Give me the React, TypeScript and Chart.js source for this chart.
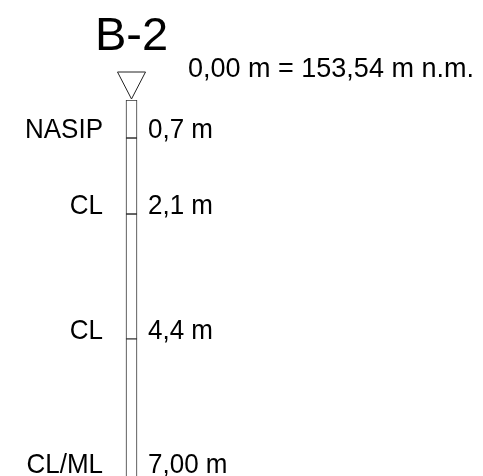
import React, { useEffect, useRef } from "react";
import { Chart, registerables } from "chart.js";

Chart.register(...registerables);

const boreholeName = "B-2";
const elevationText = "0,00 m = 153,54 m n.m.";
const layerSoils = ["NASIP", "CL", "CL", "CL/ML"];
const layerTops = [0, 0.7, 2.1, 4.4];
const layerBottoms = [0.7, 2.1, 4.4, 7.0];
const depthLabels = ["0,7 m", "2,1 m", "4,4 m", "7,00 m"];

const FONT = '"Liberation Sans", Arial, sans-serif';

function tallText(ctx: any, text: string, x: number, y: number, sy: number) {
  ctx.save();
  ctx.translate(x, y);
  ctx.scale(1, sy);
  ctx.fillText(text, 0, 0);
  ctx.restore();
}

const logPlugin = {
  id: "logPlugin",
  afterDraw(chart: any) {
    const { ctx, chartArea, scales } = chart;
    const y = scales.y;
    const x = scales.x;
    const cx = x.getPixelForValue(0);
    const half = 5.5;
    const y0 = y.getPixelForValue(0);
    ctx.save();
    ctx.fillStyle = "#000";
    // title
    ctx.font = `47px ${FONT}`;
    ctx.textAlign = "center";
    ctx.textBaseline = "alphabetic";
    ctx.fillText(boreholeName, cx, y0 - 50);
    // elevation
    ctx.font = `27px ${FONT}`;
    ctx.textAlign = "left";
    tallText(ctx, elevationText, cx + 56.5, y0 - 23, 1.0);
    // triangle
    ctx.strokeStyle = "#222";
    ctx.lineWidth = 1;
    ctx.beginPath();
    ctx.moveTo(cx - 14, y0 - 28);
    ctx.lineTo(cx + 14, y0 - 28);
    ctx.lineTo(cx, y0 - 1);
    ctx.closePath();
    ctx.stroke();
    // labels
    ctx.font = `26px ${FONT}`;
    for (let i = 0; i < layerBottoms.length; i++) {
      let by = y.getPixelForValue(layerBottoms[i]);
      by = Math.min(by, chartArea.bottom - 3);
      ctx.textAlign = "left";
      tallText(ctx, depthLabels[i], cx + half + 11, by, 1.08);
      ctx.textAlign = "right";
      tallText(ctx, layerSoils[i], cx - half - 23, by, 1.08);
    }
    ctx.restore();
  },
};

export default function App() {
  const ref = useRef<HTMLCanvasElement>(null);
  useEffect(() => {
    if (!ref.current) return;
    const chart = new Chart(ref.current, {
      type: "bar",
      data: {
        labels: [boreholeName],
        datasets: layerTops.map((t, i) => ({
          label: layerSoils[i],
          data: [[t, layerBottoms[i]]] as any,
          backgroundColor: "#ffffff",
          borderColor: "#333333",
          borderWidth: 1,
          borderSkipped: false,
          barThickness: 11,
        })),
      },
      options: {
        responsive: false,
        animation: false,
        layout: { padding: { top: 100, bottom: 0, left: 100, right: 320 } },
        scales: {
          x: { display: false, stacked: true },
          y: { display: false, reverse: true, min: 0, max: 6.925, stacked: false },
        },
        plugins: { legend: { display: false }, tooltip: { enabled: false } },
      },
      plugins: [logPlugin],
    });
    return () => chart.destroy();
  }, []);
  return (
    <div style={{ position: "fixed", left: 0, top: 0, background: "#fff" }}>
      <canvas ref={ref} width={483} height={476} style={{ display: "block" }} />
    </div>
  );
}
